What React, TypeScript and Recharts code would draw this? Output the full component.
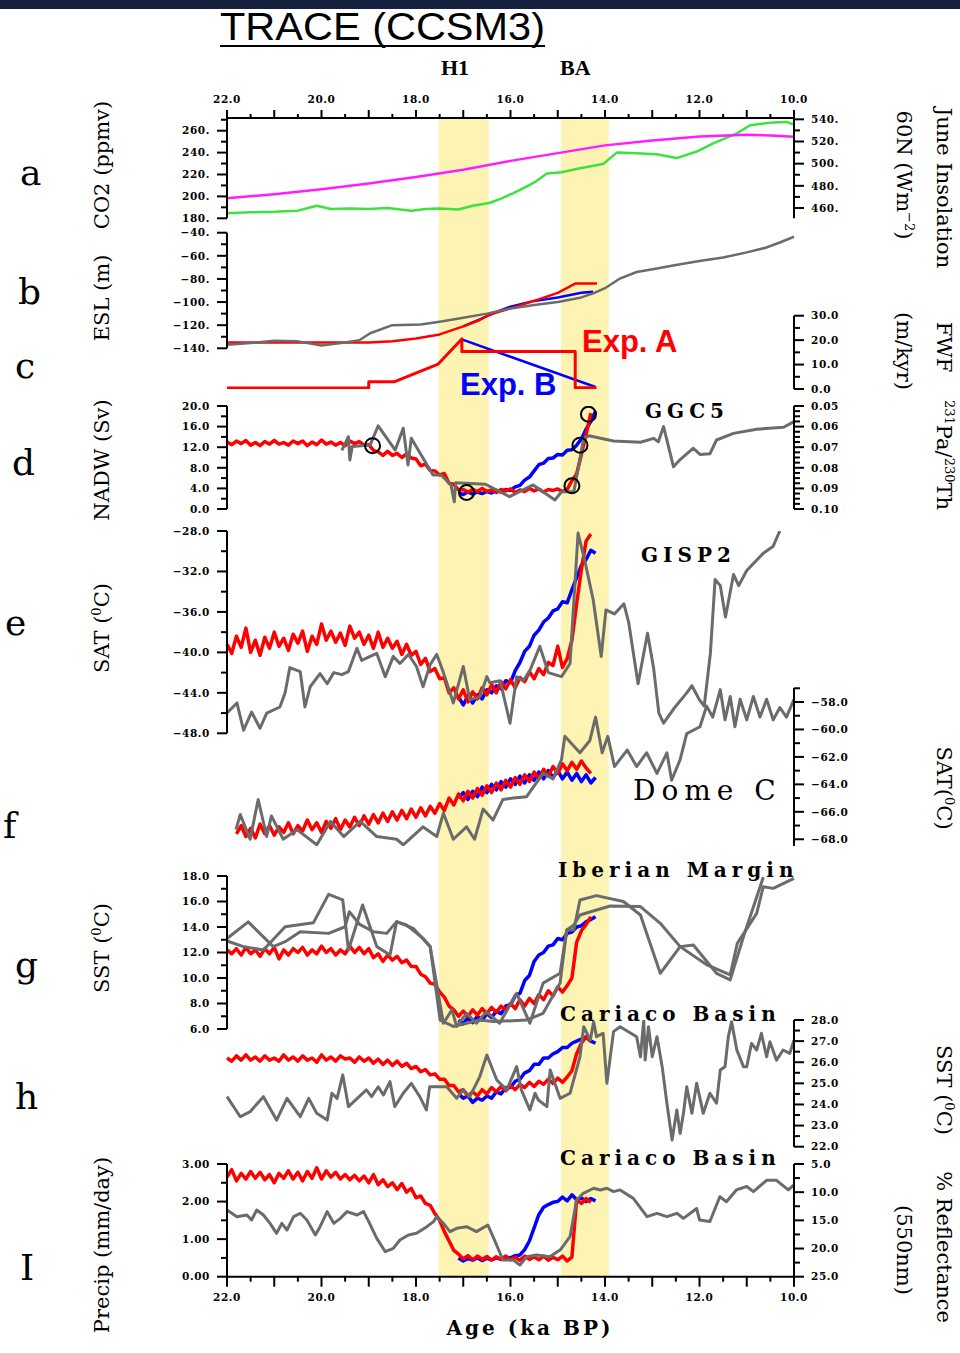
import React from 'react';
import { LineChart, Line, XAxis, YAxis, ReferenceArea } from 'recharts';

type Pair = [number, number];
type Pt = { x: number; y: number | null };

// pixel frame of the figure
const W = 960;
const H = 1353;
const X_LEFT = 227;
const X_RIGHT = 794;
const AXIS_W = 60;
const XAXIS_H = 30;

const RED = '#ff0000';
const BLUE = '#0000ff';
const GRAY = '#6b6b6b';
const GREEN = '#3ee23e';
const MAGENTA = '#ff1cff';
const BAND = '#fdf3b3';
const MINUS = '\u2212';
const MODEL_W = 3.5;

// x axis (ka BP)
const AGE_TICKS = [10, 10.5, 11, 11.5, 12, 12.5, 13, 13.5, 14, 14.5, 15, 15.5, 16, 16.5, 17, 17.5, 18, 18.5, 19, 19.5, 20, 20.5, 21, 21.5, 22];
const AGE_LABELS = [10, 12, 14, 16, 18, 20, 22];
const BANDS: Pair[] = [[17.52, 16.46], [14.93, 13.92]];

// model output grids (ka)
const RED_AGES = [
  22.0, 21.9, 21.8, 21.7, 21.6, 21.5, 21.4, 21.3, 21.2, 21.1,
  21.0, 20.9, 20.8, 20.7, 20.6, 20.5, 20.4, 20.3, 20.2, 20.1,
  20.0, 19.9, 19.8, 19.7, 19.6, 19.5, 19.4, 19.3, 19.2, 19.1,
  19.0, 18.9, 18.8, 18.7, 18.6, 18.5, 18.4, 18.3, 18.2, 18.1,
  18.0, 17.9, 17.8, 17.7, 17.6, 17.5, 17.4, 17.3, 17.2, 17.1,
  17.0, 16.9, 16.8, 16.7, 16.6, 16.5, 16.4, 16.3, 16.2, 16.1,
  16.0, 15.9, 15.8, 15.7, 15.6, 15.5, 15.4, 15.3, 15.2, 15.1,
  15.0, 14.9, 14.8, 14.7, 14.6, 14.5, 14.4, 14.3,
];
const BLUE_AGES = [
  17.1, 17.0, 16.9, 16.8, 16.7, 16.6, 16.5, 16.4, 16.3, 16.2,
  16.1, 16.0, 15.9, 15.8, 15.7, 15.6, 15.5, 15.4, 15.3, 15.2,
  15.1, 15.0, 14.9, 14.8, 14.7, 14.6, 14.5, 14.4, 14.3, 14.2,
];

// a: CO2 (ppmv) and June insolation 60N
const co2: Pair[] = [
  [22, 184.5], [21.5, 185.5], [21, 186], [20.5, 187], [20.1, 191.5], [19.8, 188.5], [19.4, 189], [19, 188.5],
  [18.6, 189.5], [18.1, 187], [17.8, 188.5], [17.5, 189], [17.1, 188], [16.8, 191.5], [16.45, 194], [16.2, 198],
  [15.94, 203], [15.66, 209], [15.45, 214], [15.23, 221], [14.92, 222], [14.53, 225.7], [14.04, 229.6], [13.75, 240],
  [13.33, 239.5], [12.91, 238.5], [12.48, 235], [12.06, 241], [11.71, 248.5], [11.21, 257.6], [10.93, 265],
  [10.44, 267.6], [10.16, 268], [10, 265.5],
];
const insolation: Pair[] = [
  [22, 468.7], [21, 472.5], [20, 477], [19, 482], [18, 488], [17, 494.5], [16, 502.5], [15, 509.5],
  [14, 516.5], [13, 521], [12, 524.5], [11, 526], [10.5, 525.5], [10, 524.3],
];

// b: ESL (m)
const eslGray: Pair[] = [
  [22, -137], [21.5, -135.5], [21, -133.5], [20.5, -134], [20, -137.5], [19.5, -135], [19.2, -133], [18.97, -127],
  [18.5, -120], [17.9, -119.5], [17.5, -117], [17, -113.5], [16.5, -110], [16, -105.5], [15.5, -102.5], [15, -100],
  [14.5, -96], [14.25, -92.4], [14, -88], [13.7, -80], [13.33, -74], [12.9, -71], [12.5, -68], [12, -64.5],
  [11.5, -61.5], [11, -57], [10.6, -53], [10.3, -48.5], [10, -43.5],
];
const eslRed: Pair[] = [
  [22, -135], [19, -135], [18.5, -134], [18, -131.5], [17.5, -128], [17, -121], [16.65, -115.5], [16.45, -111],
  [16, -105.5], [15.5, -99], [15, -92], [14.63, -84], [14.17, -84],
];
const eslBlue: Pair[] = [
  [17, -121], [16.65, -115], [16.3, -108.5], [16, -104], [15.5, -99], [15, -96], [14.5, -92], [14.25, -91],
];

// c: FWF (m/kyr)
const fwfRed: Pair[] = [
  [22, 0.4], [19.0, 0.4], [19.0, 3.0], [18.45, 3.0], [17.53, 10.2], [17.03, 20.5], [17.03, 15.3], [14.63, 15.3],
  [14.63, 0.5], [14.18, 0.5],
];
const fwfBlue: Pair[] = [[17.03, 20.3], [14.2, 0.8]];

// d: NADW (Sv) and GGC5 231Pa/230Th
const nadwRed = [
  13.0, 12.5, 13.2, 12.7, 13.3, 12.4, 12.9, 12.3, 13.1, 12.6,
  13.3, 12.6, 12.9, 12.4, 13.2, 12.7, 13.2, 12.3, 13.0, 12.5,
  13.4, 12.6, 13.0, 12.4, 12.9, 12.3, 13.2, 12.7, 13.1, 12.4,
  12.5, 11.4, 11.1, 10.4, 11.2, 10.4, 10.8, 10.0, 10.7, 9.9,
  9.7, 8.4, 8.7, 7.5, 7.4, 6.6, 6.9, 5.0, 4.8, 3.7,
  3.8, 3.3, 3.8, 3.4, 4.0, 3.4, 3.7, 3.2, 3.8, 3.5,
  3.9, 3.2, 3.7, 3.4, 4.0, 3.5, 3.9, 3.3, 3.8, 3.6,
  3.9, 3.4, 3.8, 5.5, 6.8, 10.6, 14.5, 18.6,
];
const nadwBlue = [
  3.2, 2.8, 3.3, 2.9, 3.3, 3.0, 3.4, 3.1, 3.6, 3.3,
  3.8, 3.6, 4.3, 4.6, 5.6, 6.2, 7.4, 8.6, 8.9, 9.8,
  9.9, 10.6, 10.5, 11.4, 11.5, 12.4, 13.6, 15.5, 17.0, 19.0,
];
const ggc5: Pair[] = [
  [19.57, 0.0715], [19.43, 0.0649], [19.4, 0.0762], [19.35, 0.0697], [18.97, 0.0689], [18.8, 0.0596],
  [18.44, 0.0714], [18.27, 0.0608], [18.17, 0.0786], [18.1, 0.0657], [17.64, 0.0835], [17.47, 0.0835],
  [17.26, 0.0883], [17.19, 0.0965], [17.16, 0.0872], [16.53, 0.088], [16.02, 0.094], [15.52, 0.0883],
  [15.06, 0.0956], [14.92, 0.0916], [14.66, 0.0916], [14.45, 0.0657], [14.34, 0.0644], [13.82, 0.067],
  [13.25, 0.0676], [12.97, 0.0657], [12.87, 0.0674], [12.76, 0.06], [12.55, 0.0795], [12.41, 0.076],
  [12.13, 0.0705], [11.99, 0.0735], [11.78, 0.0732], [11.64, 0.0665], [11.28, 0.0633], [10.79, 0.0613],
  [10.22, 0.0603], [10.0, 0.0576],
];
const nadwMarks: Pair[] = [[18.92, 12.3], [16.93, 3.2], [14.7, 4.5], [14.53, 12.4], [14.35, 18.4]];

// e: Greenland SAT and GISP2
const satRed = [
  -39.2, -40.1, -38.4, -39.5, -37.6, -40.0, -38.8, -40.3, -38.5, -39.6,
  -38.0, -39.4, -38.6, -39.8, -38.2, -39.1, -37.9, -39.9, -38.4, -39.2,
  -37.2, -38.8, -37.9, -39.0, -38.1, -39.3, -37.4, -38.6, -38.0, -39.2,
  -38.3, -39.6, -38.0, -39.5, -38.6, -39.6, -38.9, -40.2, -39.2, -40.3,
  -39.9, -41.2, -40.6, -41.9, -41.6, -42.6, -42.5, -44.0, -43.5, -44.6,
  -43.7, -44.9, -43.9, -44.6, -43.5, -44.2, -43.2, -44.0, -42.9, -43.6,
  -42.7, -43.5, -42.5, -42.9, -41.9, -42.6, -41.6, -42.2, -41.0, -41.3,
  -39.4, -41.5, -40.6, -38.8, -35.2, -31.8, -29.0, -28.3,
];
const satBlue = [
  -44.4, -45.2, -44.3, -45.0, -44.2, -44.6, -43.7, -44.0, -43.3, -43.6,
  -42.8, -43.0, -41.8, -41.0, -39.9, -39.4, -38.3, -37.8, -37.0, -36.6,
  -35.9, -35.7, -35.0, -35.1, -33.8, -32.6, -31.4, -30.8, -29.9, -30.2,
];
const gisp2: Pair[] = [
  [22.0, -46.0], [21.79, -45.0], [21.65, -47.7], [21.48, -45.9], [21.3, -47.5], [21.16, -46.0], [20.88, -45.4],
  [20.77, -44.0], [20.67, -41.5], [20.45, -41.9], [20.35, -45.4], [20.24, -43.4], [20.03, -42.1], [19.88, -43.1],
  [19.74, -42.0], [19.57, -42.2], [19.43, -41.9], [19.25, -39.6], [19.15, -40.8], [18.97, -40.4], [18.83, -40.1],
  [18.65, -42.4], [18.48, -40.4], [18.34, -41.1], [18.16, -40.2], [17.99, -41.4], [17.85, -43.4], [17.7, -41.2],
  [17.56, -40.2], [17.42, -42.0], [17.21, -45.0], [17.0, -41.4], [16.86, -44.7], [16.65, -44.4], [16.5, -42.4],
  [16.44, -43.0], [16.22, -42.8], [16.01, -47.0], [15.87, -42.4], [15.73, -42.8], [15.59, -41.8], [15.38, -39.4],
  [15.2, -42.0], [14.92, -42.4], [14.74, -41.1], [14.57, -28.2], [14.43, -30.9], [14.25, -34.8], [14.08, -40.4],
  [13.98, -35.8], [13.8, -36.2], [13.6, -35.2], [13.5, -37.0], [13.3, -43.1], [13.1, -38.1], [12.97, -41.6],
  [12.86, -46.0], [12.76, -47.0], [12.55, -45.6], [12.27, -44.0], [12.16, -43.3], [12.0, -44.7], [11.9, -45.3],
  [11.77, -40.1], [11.67, -32.8], [11.56, -33.4], [11.45, -36.5], [11.28, -32.3], [11.17, -33.4], [11.0, -31.9],
  [10.65, -30.2], [10.44, -29.5], [10.3, -28.0],
];

// f: Antarctic SAT and Dome C
const domeRed = [
  null, null, -67.6, -67.0, -67.8, -67.2, -67.9, -66.9, -67.6, -67.0,
  -67.7, -67.1, -67.5, -66.8, -67.6, -67.0, -67.4, -66.6, -67.3, -66.8,
  -67.5, -66.7, -67.2, -66.5, -67.3, -66.6, -67.1, -66.4, -67.0, -66.3,
  -66.9, -66.2, -66.8, -66.1, -66.7, -66.0, -66.6, -65.9, -66.5, -65.8,
  -66.4, -65.7, -66.3, -65.6, -66.1, -65.4, -65.9, -65.0, -65.5, -64.7,
  -65.2, -64.5, -65.0, -64.3, -64.8, -64.1, -64.6, -63.9, -64.4, -63.7,
  -64.2, -63.5, -64.0, -63.3, -63.8, -63.1, -63.6, -62.9, -63.4, -62.7,
  -63.2, -62.5, -63.0, -62.4, -62.9, -62.3, -62.8, -63.2,
];
const domeBlue = [
  -65.0, -64.6, -65.1, -64.5, -64.9, -64.2, -64.6, -64.0, -64.4, -63.8,
  -64.2, -63.6, -64.0, -63.4, -63.9, -63.3, -63.7, -63.1, -63.6, -63.0,
  -63.5, -63.0, -63.6, -63.1, -63.7, -63.2, -63.8, -63.3, -63.9, -63.5,
];
const domeC: Pair[] = [
  [21.81, -67.3], [21.72, -66.2], [21.51, -68.0], [21.34, -65.1], [21.16, -67.8], [21.06, -66.3], [20.81, -68.0],
  [20.52, -67.3], [20.1, -68.4], [19.81, -66.7], [19.53, -67.8], [19.18, -66.7], [18.83, -67.8], [18.41, -68.0],
  [18.27, -68.4], [17.85, -67.1], [17.56, -67.8], [17.42, -66.1], [17.21, -68.0], [16.93, -67.1], [16.76, -68.0],
  [16.58, -65.8], [16.37, -66.6], [16.16, -65.1], [15.94, -65.0], [15.66, -64.9], [15.31, -63.2], [15.1, -63.6],
  [14.92, -62.2], [14.85, -60.5], [14.53, -61.7], [14.32, -60.8], [14.2, -59.1], [14.06, -61.7], [13.94, -60.5],
  [13.8, -62.7], [13.53, -61.5], [13.33, -62.7], [13.12, -61.7], [12.9, -63.2], [12.69, -61.7], [12.59, -63.7],
  [12.41, -62.2], [12.27, -60.3], [11.99, -59.8], [11.85, -58.3], [11.72, -59.1], [11.56, -57.1], [11.46, -59.3],
  [11.35, -57.6], [11.25, -59.8], [11.14, -57.8], [11.0, -59.3], [10.86, -57.6], [10.72, -59.1], [10.58, -57.8],
  [10.44, -59.3], [10.3, -58.4], [10.16, -59.1], [10.0, -57.8],
];

// g: Iberian Margin SST
const iberRed = [
  12.2, 11.9, 12.3, 11.8, 12.4, 11.9, 12.2, 11.7, 12.3, 11.9,
  12.4, 11.5, 12.2, 11.8, 12.3, 12.0, 12.4, 11.8, 12.2, 11.9,
  12.5, 12.0, 12.3, 11.8, 12.2, 11.9, 12.5, 12.0, 12.4, 11.9,
  12.3, 11.6, 11.9, 11.3, 11.8, 11.4, 11.7, 11.2, 11.4, 10.9,
  10.9, 10.3, 10.1, 9.6, 9.5, 8.9, 8.5, 7.8, 7.5, 7.0,
  7.4, 7.0, 7.5, 7.1, 7.6, 7.2, 7.7, 7.3, 7.8, 7.5,
  8.0, 7.6, 8.3, 7.8, 8.4, 8.0, 8.7, 8.3, 9.0, 8.6,
  9.3, 8.9, 9.4, 10.0, 12.8, 13.7, 14.2, 14.8,
];
const iberBlue = [
  6.7, 6.4, 6.9, 6.5, 7.0, 6.7, 7.2, 6.9, 7.4, 7.2,
  7.8, 7.9, 8.6, 8.8, 9.8, 10.2, 11.3, 11.8, 12.0, 12.5,
  12.6, 13.1, 13.0, 13.5, 13.6, 14.0, 14.1, 14.4, 14.6, 14.8,
];
const iberianA: Pair[] = [
  [22.0, 13.1], [21.55, 14.4], [21.02, 12.46], [20.77, 12.85], [20.45, 13.63], [19.85, 13.5], [19.5, 14.02],
  [19.41, 15.2], [19.19, 14.2], [18.9, 13.63], [18.62, 13.5], [18.41, 14.42], [18.06, 13.9], [17.7, 12.46],
  [17.49, 6.7], [17.21, 6.2], [16.93, 6.45], [16.65, 6.7], [16.37, 6.58], [15.66, 6.7], [15.31, 7.23],
  [14.95, 9.6], [14.81, 13.76], [14.66, 14.16], [14.53, 14.94], [14.18, 15.33], [13.89, 15.65], [13.25, 15.6],
  [12.83, 14.29], [12.41, 12.46], [11.84, 11.02], [11.35, 10.24], [11.2, 12.72], [10.79, 15.07], [10.65, 17.16],
  [10.44, 17.03], [10.0, 17.82],
];
const iberianB: Pair[] = [
  [22.0, 12.9], [21.65, 12.46], [21.23, 12.2], [20.77, 14.02], [20.17, 14.34], [19.85, 16.56], [19.55, 16.12],
  [19.43, 12.2], [19.13, 15.73], [18.83, 12.46], [18.55, 11.8], [18.41, 14.42], [18.2, 14.16], [17.85, 13.11],
  [17.7, 12.46], [17.42, 6.45], [17.24, 7.5], [17.14, 6.2], [16.93, 7.23], [16.72, 6.45], [16.51, 7.36],
  [16.23, 6.45], [15.87, 8.8], [15.59, 6.45], [15.31, 9.6], [14.95, 10.37], [14.81, 13.76], [14.66, 13.76],
  [14.53, 16.12], [14.18, 16.46], [13.61, 16.0], [13.25, 14.94], [12.83, 10.37], [12.41, 12.46], [12.13, 12.59],
  [11.64, 10.37], [11.35, 9.85], [11.07, 13.24], [10.65, 17.9],
];

// h: Cariaco Basin SST
const cariRed = [
  26.2, 26.05, 26.3, 26.1, 26.35, 26.1, 26.25, 26.05, 26.3, 26.1,
  26.2, 26.05, 26.35, 26.1, 26.25, 26.05, 26.3, 26.1, 26.2, 26.0,
  26.35, 26.1, 26.25, 26.05, 26.3, 26.15, 26.2, 26.0, 26.25, 26.05,
  26.2, 25.95, 26.15, 25.9, 26.1, 25.85, 26.05, 25.8, 25.95, 25.7,
  25.8, 25.55, 25.65, 25.4, 25.45, 25.2, 25.2, 24.9, 24.9, 24.6,
  24.7, 24.4, 24.6, 24.4, 24.7, 24.5, 24.8, 24.6, 24.85, 24.65,
  24.9, 24.7, 24.95, 24.8, 25.05, 24.85, 25.1, 24.95, 25.2, 25.0,
  25.25, 25.05, 25.3, 25.6, 26.4, 26.9, 27.2, 27.0,
];
const cariBlue = [
  24.5, 24.3, 24.4, 24.1, 24.3, 24.2, 24.4, 24.3, 24.6, 24.5,
  24.8, 24.8, 25.1, 25.2, 25.5, 25.6, 25.9, 25.9, 26.2, 26.2,
  26.4, 26.5, 26.7, 26.7, 26.9, 27.0, 27.1, 27.2, 27.0, 26.9,
];
const cariacoSst: Pair[] = [
  [22.0, 24.37], [21.72, 23.42], [21.51, 23.66], [21.23, 24.37], [20.95, 23.26], [20.73, 24.29], [20.45, 23.42],
  [20.27, 24.29], [20.1, 23.58], [19.88, 23.26], [19.78, 24.53], [19.67, 24.29], [19.55, 25.4], [19.43, 23.9],
  [19.05, 24.69], [18.94, 24.37], [18.8, 24.84], [18.69, 24.45], [18.55, 25.08], [18.45, 23.9], [18.27, 24.53],
  [18.1, 25.0], [17.92, 24.37], [17.78, 23.74], [17.71, 24.84], [17.35, 24.84], [17.14, 24.29], [17.0, 24.69],
  [16.86, 24.37], [16.65, 25.32], [16.5, 26.34], [16.29, 25.16], [16.08, 24.69], [15.87, 25.79], [15.77, 24.69],
  [15.59, 23.74], [15.48, 24.53], [15.41, 24.21], [15.23, 23.9], [15.16, 25.63], [14.95, 24.29], [14.74, 24.53],
  [14.53, 26.26], [14.45, 27.68], [14.31, 27.05], [14.24, 27.92], [14.18, 27.21], [14.04, 27.37], [13.96, 25.0],
  [13.82, 27.45], [13.68, 27.68], [13.33, 27.21], [13.25, 26.26], [13.18, 28.0], [13.15, 26.1], [13.08, 27.68],
  [13.0, 26.26], [12.9, 27.21], [12.79, 25.79], [12.69, 24.06], [12.58, 22.32], [12.48, 23.74], [12.41, 22.63],
  [12.34, 23.58], [12.27, 24.84], [12.16, 23.58], [12.06, 25.0], [11.92, 23.58], [11.78, 24.53], [11.64, 24.06],
  [11.56, 25.63], [11.46, 25.79], [11.39, 27.21], [11.32, 27.92], [11.21, 26.58], [11.07, 25.79], [11.0, 25.79],
  [10.9, 26.89], [10.79, 26.58], [10.69, 27.37], [10.58, 26.26], [10.51, 26.97], [10.37, 26.1], [10.23, 26.58],
  [10.09, 26.42], [10.0, 27.05],
];

// I: precipitation (mm/day) and Cariaco % reflectance
const precipRed = [
  2.65, 2.85, 2.55, 2.75, 2.6, 2.8, 2.62, 2.78, 2.58, 2.72,
  2.5, 2.75, 2.62, 2.82, 2.6, 2.78, 2.55, 2.8, 2.62, 2.9,
  2.6, 2.82, 2.65, 2.78, 2.6, 2.72, 2.58, 2.7, 2.55, 2.68,
  2.5, 2.72, 2.45, 2.58, 2.4, 2.5, 2.32, 2.48, 2.25, 2.35,
  2.1, 2.15, 1.95, 1.9, 1.68, 1.5, 1.2, 0.95, 0.7, 0.6,
  0.48, 0.56, 0.45, 0.55, 0.46, 0.54, 0.44, 0.53, 0.46, 0.55,
  0.45, 0.52, 0.44, 0.55, 0.46, 0.53, 0.45, 0.55, 0.44, 0.52,
  0.45, 0.55, 0.42, 0.52, 2.05, 1.95, 2.08, 1.98,
];
const precipBlue = [
  0.5, 0.42, 0.48, 0.44, 0.5, 0.43, 0.49, 0.45, 0.5, 0.46,
  0.52, 0.5, 0.56, 0.58, 0.72, 0.95, 1.3, 1.65, 1.85, 1.92,
  1.98, 2.0, 2.12, 2.02, 2.18, 2.05, 2.1, 2.0, 2.08, 2.02,
];
const reflectance: Pair[] = [
  [22.0, 13.16], [21.79, 14.35], [21.58, 14.05], [21.48, 14.93], [21.37, 13.16], [21.23, 14.05], [21.09, 15.53],
  [20.95, 17.3], [20.84, 15.53], [20.73, 16.71], [20.59, 14.35], [20.45, 13.75], [20.31, 14.93], [20.13, 17.6],
  [20.03, 16.12], [19.88, 13.45], [19.74, 15.53], [19.6, 14.64], [19.46, 13.45], [19.25, 14.05], [19.11, 13.45],
  [19.0, 15.23], [18.83, 18.2], [18.65, 20.57], [18.48, 19.97], [18.34, 18.49], [18.16, 17.6], [17.99, 17.3],
  [17.77, 16.12], [17.63, 15.23], [17.56, 14.35], [17.42, 15.53], [17.28, 17.0], [17.14, 16.41], [16.93, 16.12],
  [16.72, 17.0], [16.48, 15.82], [16.37, 17.9], [16.16, 22.04], [15.94, 22.04], [15.8, 22.93], [15.66, 21.45],
  [15.45, 21.15], [15.17, 21.45], [14.95, 20.27], [14.74, 17.9], [14.6, 11.39], [14.46, 10.2], [14.24, 9.3],
  [14.1, 9.61], [13.96, 9.3], [13.82, 9.9], [13.68, 9.6], [13.4, 11.1], [13.11, 14.35], [12.9, 13.75],
  [12.69, 14.35], [12.48, 13.75], [12.34, 14.65], [12.06, 12.9], [12.0, 14.93], [11.78, 15.2], [11.57, 10.8],
  [11.43, 11.7], [11.22, 9.6], [11.0, 9.0], [10.86, 9.9], [10.58, 7.9], [10.37, 7.9], [10.12, 9.6], [10.0, 8.7],
];

const pairs = (a: Pair[]): Pt[] => a.map(([x, y]) => ({ x, y }));
const onGrid = (ages: number[], vals: (number | null)[]): Pt[] => ages.map((x, i) => ({ x, y: vals[i] }));

const signed = (s: string) => s.replace('-', MINUS);
const dotFmt = (v: number) => signed(`${v}.`);
const fix = (n: number) => (v: number) => signed(v.toFixed(n));

interface AxisSpec {
  domain: [number, number];
  ticks: number[];
  majors: number[];
  fmt: (v: number) => string;
  reversed?: boolean;
}
interface LineSpec {
  data: Pt[];
  color: string;
  width: number;
  side: 'L' | 'R';
  marks?: boolean;
}
interface PanelSpec {
  top: number;
  bottom: number;
  left?: AxisSpec;
  right?: AxisSpec;
  xAxis?: 'top' | 'bottom';
  lines: LineSpec[];
}

const TICK_FONT: React.CSSProperties = {
  fontFamily: '"DejaVu Serif", serif',
  fontWeight: 700,
  fontSize: 10.5,
  letterSpacing: 0.6,
  fill: '#000',
};

const makeYTick = (spec: AxisSpec, side: 'L' | 'R') => (props: any) => {
  const { y, payload } = props;
  const v = payload.value as number;
  const major = spec.majors.includes(v);
  const ax = side === 'L' ? X_LEFT : X_RIGHT;
  const dir = side === 'L' ? -1 : 1;
  const len = major ? 10 : 6;
  return (
    <g>
      <line x1={ax} x2={ax + dir * len} y1={y} y2={y} stroke="#000" strokeWidth={2} />
      {major && (
        <text x={ax + dir * 17} y={y} dy="0.36em" textAnchor={side === 'L' ? 'end' : 'start'} style={TICK_FONT}>
          {spec.fmt(v)}
        </text>
      )}
    </g>
  );
};

const makeXTick = (edge: 'top' | 'bottom', axisY: number) => (props: any) => {
  const { x, payload } = props;
  const v = payload.value as number;
  const major = Number.isInteger(v);
  const dir = edge === 'top' ? -1 : 1;
  const len = edge === 'top' ? (major ? 8 : 4) : major ? 10 : 5;
  return (
    <g>
      <line x1={x} x2={x} y1={axisY} y2={axisY + dir * len} stroke="#000" strokeWidth={2} />
      {AGE_LABELS.includes(v) && (
        <text x={x} y={edge === 'top' ? axisY - 15 : axisY + 24} textAnchor="middle" style={TICK_FONT}>
          {v.toFixed(1)}
        </text>
      )}
    </g>
  );
};

const AXIS_LINE = { stroke: '#000', strokeWidth: 2 };

function Panel({ top, bottom, left, right, xAxis, lines }: PanelSpec) {
  const margin = {
    top: xAxis === 'top' ? top - XAXIS_H : top,
    bottom: xAxis === 'bottom' ? H - bottom - XAXIS_H : H - bottom,
    left: left ? X_LEFT - AXIS_W : X_LEFT,
    right: right ? W - X_RIGHT - AXIS_W : W - X_RIGHT,
  };
  return (
    <div style={{ position: 'absolute', left: 0, top: 0 }}>
      <LineChart width={W} height={H} margin={margin}>
        <XAxis
          type="number"
          dataKey="x"
          domain={[10, 22]}
          reversed
          hide={!xAxis}
          orientation={xAxis ?? 'bottom'}
          height={XAXIS_H}
          ticks={AGE_TICKS}
          interval={0}
          tickSize={0}
          tickLine={false}
          axisLine={AXIS_LINE}
          tick={xAxis ? makeXTick(xAxis, xAxis === 'top' ? top : bottom) : false}
        />
        <YAxis
          yAxisId="L"
          type="number"
          width={AXIS_W}
          hide={!left}
          domain={left ? left.domain : [0, 1]}
          reversed={left?.reversed}
          allowDataOverflow
          ticks={left?.ticks}
          interval={0}
          tickSize={0}
          tickLine={false}
          axisLine={AXIS_LINE}
          tick={left ? makeYTick(left, 'L') : false}
        />
        <YAxis
          yAxisId="R"
          orientation="right"
          type="number"
          width={AXIS_W}
          hide={!right}
          domain={right ? right.domain : [0, 1]}
          reversed={right?.reversed}
          allowDataOverflow
          ticks={right?.ticks}
          interval={0}
          tickSize={0}
          tickLine={false}
          axisLine={AXIS_LINE}
          tick={right ? makeYTick(right, 'R') : false}
        />
        {lines.map((l, i) =>
          l.marks ? (
            <Line
              key={i}
              yAxisId={l.side}
              data={l.data}
              dataKey="y"
              stroke="none"
              dot={{ r: 7.5, fill: 'none', stroke: '#000', strokeWidth: 2 }}
              isAnimationActive={false}
            />
          ) : (
            <Line
              key={i}
              yAxisId={l.side}
              data={l.data}
              dataKey="y"
              type="linear"
              stroke={l.color}
              strokeWidth={l.width}
              strokeLinejoin="round"
              dot={false}
              connectNulls={false}
              isAnimationActive={false}
            />
          ),
        )}
      </LineChart>
    </div>
  );
}

const PANELS: PanelSpec[] = [
  {
    top: 118, bottom: 218.3, xAxis: 'top',
    left: { domain: [180, 271.6], ticks: [180, 190, 200, 210, 220, 230, 240, 250, 260, 270], majors: [180, 200, 220, 240, 260], fmt: dotFmt },
    right: { domain: [450.7, 541.2], ticks: [460, 470, 480, 490, 500, 510, 520, 530, 540], majors: [460, 480, 500, 520, 540], fmt: dotFmt },
    lines: [
      { data: pairs(co2), color: GREEN, width: 2.5, side: 'L' },
      { data: pairs(insolation), color: MAGENTA, width: 2.5, side: 'R' },
    ],
  },
  {
    top: 232.7, bottom: 348.3,
    left: { domain: [-140, -40], ticks: [-140, -130, -120, -110, -100, -90, -80, -70, -60, -50, -40], majors: [-140, -120, -100, -80, -60, -40], fmt: dotFmt },
    lines: [
      { data: pairs(eslBlue), color: BLUE, width: 2.5, side: 'L' },
      { data: pairs(eslRed), color: RED, width: 2.5, side: 'L' },
      { data: pairs(eslGray), color: GRAY, width: 2.5, side: 'L' },
    ],
  },
  {
    top: 315.7, bottom: 389,
    right: { domain: [0, 30], ticks: [0, 5, 10, 15, 20, 25, 30], majors: [0, 10, 20, 30], fmt: fix(1) },
    lines: [
      { data: pairs(fwfBlue), color: BLUE, width: 2.5, side: 'R' },
      { data: pairs(fwfRed), color: RED, width: 3, side: 'R' },
    ],
  },
  {
    top: 406, bottom: 509,
    left: { domain: [0, 20], ticks: [0, 2, 4, 6, 8, 10, 12, 14, 16, 18, 20], majors: [0, 4, 8, 12, 16, 20], fmt: fix(1) },
    right: {
      domain: [0.05, 0.1], reversed: true,
      ticks: [0.05, 0.0525, 0.055, 0.0575, 0.06, 0.0625, 0.065, 0.0675, 0.07, 0.0725, 0.075, 0.0775, 0.08, 0.0825, 0.085, 0.0875, 0.09, 0.0925, 0.095, 0.0975, 0.1],
      majors: [0.05, 0.06, 0.07, 0.08, 0.09, 0.1], fmt: fix(2),
    },
    lines: [
      { data: onGrid(BLUE_AGES, nadwBlue), color: BLUE, width: MODEL_W, side: 'L' },
      { data: onGrid(RED_AGES, nadwRed), color: RED, width: MODEL_W, side: 'L' },
      { data: pairs(ggc5), color: GRAY, width: 3, side: 'R' },
      { data: pairs(nadwMarks), color: '#000', width: 2, side: 'L', marks: true },
    ],
  },
  {
    top: 531, bottom: 733.3,
    left: { domain: [-48, -28], ticks: [-48, -46, -44, -42, -40, -38, -36, -34, -32, -30, -28], majors: [-48, -44, -40, -36, -32, -28], fmt: fix(1) },
    lines: [
      { data: onGrid(BLUE_AGES, satBlue), color: BLUE, width: MODEL_W, side: 'L' },
      { data: onGrid(RED_AGES, satRed), color: RED, width: MODEL_W, side: 'L' },
      { data: pairs(gisp2), color: GRAY, width: 3, side: 'L' },
    ],
  },
  {
    top: 688, bottom: 846,
    right: { domain: [-68.49, -56.98], ticks: [-68, -67, -66, -65, -64, -63, -62, -61, -60, -59, -58, -57], majors: [-68, -66, -64, -62, -60, -58], fmt: fix(1) },
    lines: [
      { data: onGrid(BLUE_AGES, domeBlue), color: BLUE, width: MODEL_W, side: 'R' },
      { data: onGrid(RED_AGES, domeRed), color: RED, width: MODEL_W, side: 'R' },
      { data: pairs(domeC), color: GRAY, width: 3, side: 'R' },
    ],
  },
  {
    top: 876, bottom: 1029,
    left: { domain: [6, 18], ticks: [6, 7, 8, 9, 10, 11, 12, 13, 14, 15, 16, 17, 18], majors: [6, 8, 10, 12, 14, 16, 18], fmt: fix(1) },
    lines: [
      { data: onGrid(BLUE_AGES, iberBlue), color: BLUE, width: MODEL_W, side: 'L' },
      { data: onGrid(RED_AGES, iberRed), color: RED, width: MODEL_W, side: 'L' },
      { data: pairs(iberianA), color: GRAY, width: 3, side: 'L' },
      { data: pairs(iberianB), color: GRAY, width: 3, side: 'L' },
    ],
  },
  {
    top: 1020, bottom: 1146.7,
    right: { domain: [22, 28], ticks: [22, 22.5, 23, 23.5, 24, 24.5, 25, 25.5, 26, 26.5, 27, 27.5, 28], majors: [22, 23, 24, 25, 26, 27, 28], fmt: fix(1) },
    lines: [
      { data: onGrid(BLUE_AGES, cariBlue), color: BLUE, width: MODEL_W, side: 'R' },
      { data: onGrid(RED_AGES, cariRed), color: RED, width: MODEL_W, side: 'R' },
      { data: pairs(cariacoSst), color: GRAY, width: 3, side: 'R' },
    ],
  },
  {
    top: 1164, bottom: 1276.7, xAxis: 'bottom',
    left: { domain: [0, 3], ticks: [0, 0.5, 1, 1.5, 2, 2.5, 3], majors: [0, 1, 2, 3], fmt: fix(2) },
    right: { domain: [5, 25], reversed: true, ticks: [5, 7.5, 10, 12.5, 15, 17.5, 20, 22.5, 25], majors: [5, 10, 15, 20, 25], fmt: fix(1) },
    lines: [
      { data: onGrid(BLUE_AGES, precipBlue), color: BLUE, width: MODEL_W, side: 'L' },
      { data: onGrid(RED_AGES, precipRed), color: RED, width: MODEL_W, side: 'L' },
      { data: pairs(reflectance), color: GRAY, width: 3, side: 'R' },
    ],
  },
];

function Bands() {
  return (
    <div style={{ position: 'absolute', left: 0, top: 0 }}>
      <LineChart width={W} height={H} margin={{ top: 118, bottom: H - 1277, left: X_LEFT, right: W - X_RIGHT }}>
        <XAxis type="number" dataKey="x" domain={[10, 22]} reversed hide />
        <YAxis type="number" domain={[0, 1]} hide />
        <Line data={[{ x: 22, y: 0 }, { x: 10, y: 0 }]} dataKey="y" stroke="none" dot={false} isAnimationActive={false} />
        {BANDS.map(([a, b], i) => (
          <ReferenceArea key={i} x1={a} x2={b} fill={BAND} fillOpacity={1} stroke="none" />
        ))}
      </LineChart>
    </div>
  );
}

const SERIF = '"DejaVu Serif", serif';
const LABEL: React.CSSProperties = { fontFamily: SERIF, fontSize: 21, fill: '#000' };
const SITE: React.CSSProperties = { fontFamily: SERIF, fontWeight: 700, fontSize: 20, letterSpacing: 5, fill: '#000' };

// raised part followed by the rest of the label back on the baseline
const sup = (raised: string, rest: string) => (
  <>
    <tspan dy={-8} fontSize={13}>{raised}</tspan>
    <tspan dy={8}>{rest}</tspan>
  </>
);

function Overlay() {
  const letters: [string, number, number][] = [
    ['a', 20, 185], ['b', 18, 304], ['c', 15, 378], ['d', 12, 475], ['e', 5, 635],
    ['f', 3, 838], ['g', 15, 977], ['h', 15, 1109], ['I', 20, 1280],
  ];
  const vLeft = (y: number, body: React.ReactNode) => (
    <text transform={`translate(109,${y}) rotate(-90)`} textAnchor="middle" style={LABEL}>{body}</text>
  );
  const vRight = (x: number, y: number, body: React.ReactNode) => (
    <text transform={`translate(${x},${y}) rotate(90)`} textAnchor="middle" style={LABEL}>{body}</text>
  );
  return (
    <svg width={W} height={H} style={{ position: 'absolute', left: 0, top: 0 }}>
      <rect x={0} y={0} width={W} height={9} fill="#15223f" />
      <text x={220} y={40} textLength={325} lengthAdjust="spacingAndGlyphs"
        style={{ fontFamily: '"Liberation Sans", sans-serif', fontSize: 39, fill: '#000' }}>TRACE (CCSM3)</text>
      <line x1={220} x2={545} y1={46} y2={46} stroke="#000" strokeWidth={2} />
      <text x={441} y={75} style={{ fontFamily: '"Liberation Serif", serif', fontWeight: 700, fontSize: 22 }}>H1</text>
      <text x={560} y={75} style={{ fontFamily: '"Liberation Serif", serif', fontWeight: 700, fontSize: 22 }}>BA</text>

      {letters.map(([t, x, y]) => (
        <text key={t} x={x} y={y} style={{ fontFamily: SERIF, fontSize: 36, fill: '#000' }}>{t}</text>
      ))}

      {vLeft(165, 'CO2 (ppmv)')}
      {vLeft(298, 'ESL (m)')}
      {vLeft(460, 'NADW (Sv)')}
      {vLeft(628, <>SAT ({sup('0', 'C)')}</>)}
      {vLeft(948, <>SST ({sup('0', 'C)')}</>)}
      {vLeft(1245, 'Precip (mm/day)')}

      {vRight(937, 188, 'June Insolation')}
      {vRight(897, 175, <>60N (Wm{sup(`${MINUS}2`, ')')}</>)}
      {vRight(937, 347, 'FWF')}
      {vRight(897, 351, '(m/kyr)')}
      {vRight(937, 455, <>{sup('231', 'Pa/')}{sup('230', 'Th')}</>)}
      {vRight(937, 788, <>SAT({sup('0', 'C)')}</>)}
      {vRight(937, 1090, <>SST ({sup('0', 'C)')}</>)}
      {vRight(937, 1247, '% Reflectance')}
      {vRight(897, 1250, '(550nm)')}

      <text x={582} y={352} style={{ fontFamily: '"Liberation Sans", sans-serif', fontWeight: 700, fontSize: 31, fill: RED }}>Exp. A</text>
      <text x={460} y={395} style={{ fontFamily: '"Liberation Sans", sans-serif', fontWeight: 700, fontSize: 31, fill: BLUE }}>Exp. B</text>

      <text x={645} y={418} style={SITE}>GGC5</text>
      <text x={641} y={562} style={SITE}>GISP2</text>
      <text x={633} y={800} style={{ ...SITE, fontWeight: 400, fontSize: 28, letterSpacing: 6 }}>Dome C</text>
      <text x={558} y={877} style={SITE}>Iberian Margin</text>
      <text x={560} y={1021} style={SITE}>Cariaco Basin</text>
      <text x={560} y={1165} style={SITE}>Cariaco Basin</text>

      <text x={530} y={1335} textAnchor="middle" style={{ fontFamily: SERIF, fontWeight: 700, fontSize: 20, letterSpacing: 3, fill: '#000' }}>Age (ka BP)</text>
    </svg>
  );
}

export default function App() {
  return (
    <div style={{ position: 'absolute', left: 0, top: 0, width: W, height: H, background: '#fff', overflow: 'hidden' }}>
      <Bands />
      {PANELS.map((p, i) => (
        <Panel key={i} {...p} />
      ))}
      <Overlay />
    </div>
  );
}
